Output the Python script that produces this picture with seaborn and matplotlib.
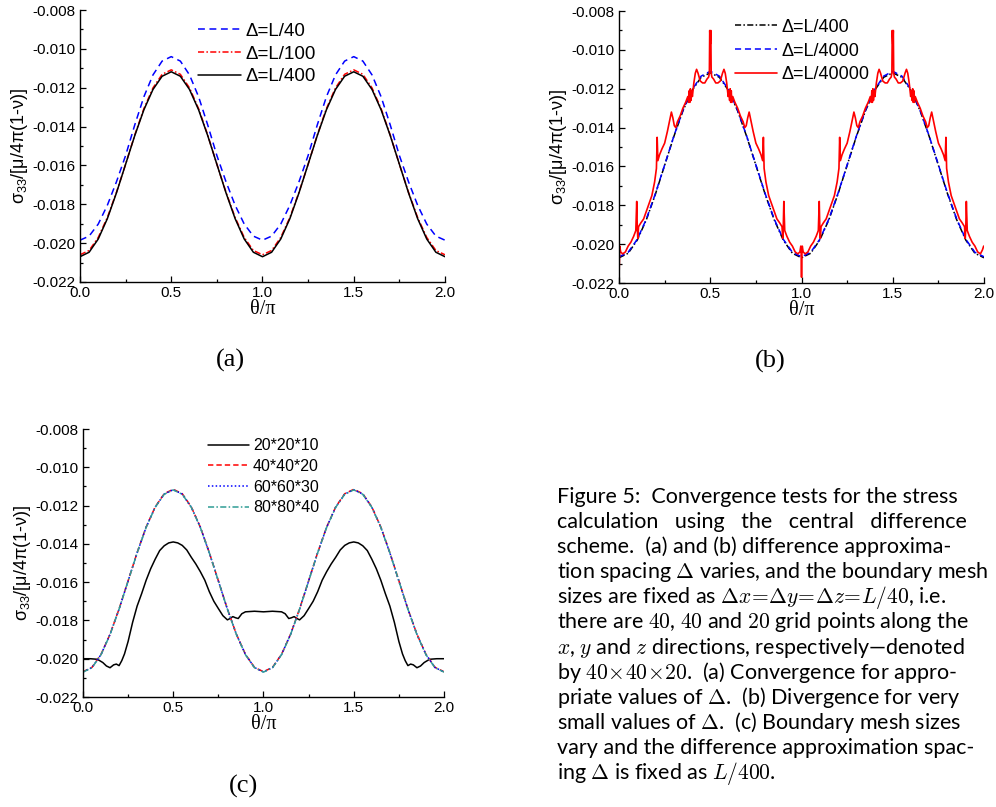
import numpy as np
import pandas as pd
import matplotlib
matplotlib.use("Agg")
import matplotlib.pyplot as plt
from matplotlib.ticker import MultipleLocator, FormatStrFormatter
import seaborn as sns

# sample positions (theta / pi) for the smooth curves
theta = np.round(np.arange(0, 2.0001, 0.05), 2)

# (a) sigma33 for different difference spacings
a_L40 = [-0.01985, -0.01964, -0.01902, -0.01805, -0.01684, -0.01549, -0.01392, -0.01247, -0.01134, -0.01063, -0.01040,
         -0.01063, -0.01134, -0.01247, -0.01392, -0.01549, -0.01684, -0.01805, -0.01902, -0.01964, -0.01985,
         -0.01964, -0.01902, -0.01805, -0.01684, -0.01549, -0.01392, -0.01247, -0.01134, -0.01063, -0.01040,
         -0.01063, -0.01134, -0.01247, -0.01392, -0.01549, -0.01684, -0.01805, -0.01902, -0.01964, -0.01985]
a_L100 = [-0.02060, -0.02038, -0.01971, -0.01868, -0.01738, -0.01594, -0.01444, -0.01308, -0.01201, -0.01131, -0.01108,
          -0.01131, -0.01201, -0.01308, -0.01444, -0.01594, -0.01738, -0.01868, -0.01971, -0.02038, -0.02060,
          -0.02038, -0.01971, -0.01868, -0.01738, -0.01594, -0.01444, -0.01308, -0.01201, -0.01131, -0.01108,
          -0.01131, -0.01201, -0.01308, -0.01444, -0.01594, -0.01738, -0.01868, -0.01971, -0.02038, -0.02060]
a_L400 = [-0.02070, -0.02047, -0.01979, -0.01874, -0.01741, -0.01594, -0.01447, -0.01314, -0.01209, -0.01141, -0.01118,
          -0.01141, -0.01209, -0.01314, -0.01447, -0.01594, -0.01741, -0.01874, -0.01979, -0.02047, -0.02070,
          -0.02047, -0.01979, -0.01874, -0.01741, -0.01594, -0.01447, -0.01314, -0.01209, -0.01141, -0.01118,
          -0.01141, -0.01209, -0.01314, -0.01447, -0.01594, -0.01741, -0.01874, -0.01979, -0.02047, -0.02070]

# (b) very small spacings
b_L400 = [-0.02070, -0.02047, -0.01979, -0.01874, -0.01741, -0.01594, -0.01447, -0.01314, -0.01209, -0.01141, -0.01118,
          -0.01141, -0.01209, -0.01314, -0.01447, -0.01594, -0.01741, -0.01874, -0.01979, -0.02047, -0.02070,
          -0.02047, -0.01979, -0.01874, -0.01741, -0.01594, -0.01447, -0.01314, -0.01209, -0.01141, -0.01118,
          -0.01141, -0.01209, -0.01314, -0.01447, -0.01594, -0.01741, -0.01874, -0.01979, -0.02047, -0.02070]
b_L4000 = [-0.02065, -0.02042, -0.01975, -0.01870, -0.01738, -0.01592, -0.01445, -0.01311, -0.01205, -0.01135, -0.01110,
           -0.01135, -0.01205, -0.01311, -0.01445, -0.01592, -0.01738, -0.01870, -0.01975, -0.02042, -0.02065,
           -0.02042, -0.01975, -0.01870, -0.01738, -0.01592, -0.01445, -0.01311, -0.01205, -0.01135, -0.01110,
           -0.01135, -0.01205, -0.01311, -0.01445, -0.01592, -0.01738, -0.01870, -0.01975, -0.02042, -0.02065]

b_L40000_theta = [
    0.000, 0.004, 0.009, 0.020, 0.035, 0.050, 0.065, 0.080, 0.092, 0.097,
    0.100, 0.103, 0.107, 0.120, 0.135, 0.150, 0.165, 0.180, 0.195, 0.205,
    0.209, 0.213, 0.222, 0.235, 0.250, 0.265, 0.278, 0.287, 0.295, 0.303,
    0.311, 0.320, 0.335, 0.350, 0.365, 0.377, 0.382, 0.385, 0.388, 0.391,
    0.394, 0.397, 0.402, 0.410, 0.418, 0.425, 0.433, 0.445, 0.458, 0.470,
    0.482, 0.491, 0.495, 0.497, 0.500, 0.503, 0.505, 0.509, 0.518, 0.530,
    0.542, 0.555, 0.567, 0.575, 0.582, 0.590, 0.598, 0.603, 0.606, 0.609,
    0.612, 0.615, 0.618, 0.623, 0.635, 0.650, 0.665, 0.680, 0.689, 0.697,
    0.705, 0.713, 0.722, 0.735, 0.750, 0.765, 0.778, 0.787, 0.791, 0.795,
    0.805, 0.820, 0.835, 0.850, 0.865, 0.880, 0.893, 0.897, 0.900, 0.903,
    0.908, 0.920, 0.935, 0.950, 0.965, 0.980, 0.991, 0.996, 0.998, 1.000,
    1.002, 1.004, 1.009, 1.020, 1.035, 1.050, 1.065, 1.080, 1.092, 1.097,
    1.100, 1.103, 1.107, 1.120, 1.135, 1.150, 1.165, 1.180, 1.195, 1.205,
    1.209, 1.213, 1.222, 1.235, 1.250, 1.265, 1.278, 1.287, 1.295, 1.303,
    1.311, 1.320, 1.335, 1.350, 1.365, 1.377, 1.382, 1.385, 1.388, 1.391,
    1.394, 1.397, 1.402, 1.410, 1.418, 1.425, 1.433, 1.445, 1.458, 1.470,
    1.482, 1.491, 1.495, 1.497, 1.500, 1.503, 1.505, 1.509, 1.518, 1.530,
    1.542, 1.555, 1.567, 1.575, 1.582, 1.590, 1.598, 1.603, 1.606, 1.609,
    1.612, 1.615, 1.618, 1.623, 1.635, 1.650, 1.665, 1.680, 1.689, 1.697,
    1.705, 1.713, 1.722, 1.735, 1.750, 1.765, 1.778, 1.787, 1.791, 1.795,
    1.805, 1.820, 1.835, 1.850, 1.865, 1.880, 1.893, 1.897, 1.900, 1.903,
    1.908, 1.920, 1.935, 1.950, 1.965, 1.980, 1.991, 1.998]
b_L40000 = [
    -0.0217, -0.0201, -0.0204, -0.0205, -0.0204, -0.0201, -0.0199, -0.0196, -0.0193, -0.0178,
    -0.0191, -0.0197, -0.0191, -0.0189, -0.0187, -0.0183, -0.0179, -0.0175, -0.0168, -0.0161,
    -0.0145, -0.0157, -0.0154, -0.0151, -0.0148, -0.0142, -0.0136, -0.0132, -0.0135, -0.0139,
    -0.0140, -0.0137, -0.0134, -0.0130, -0.0127, -0.0124, -0.0127, -0.0121, -0.0127, -0.0120,
    -0.0126, -0.0121, -0.0124, -0.0117, -0.0112, -0.0110, -0.0112, -0.0116, -0.0117, -0.0117,
    -0.0115, -0.0114, -0.0112, -0.0090, -0.0097, -0.0090, -0.0112, -0.0114, -0.0115, -0.0117,
    -0.0117, -0.0116, -0.0112, -0.0110, -0.0112, -0.0117, -0.0124, -0.0121, -0.0126, -0.0120,
    -0.0127, -0.0121, -0.0127, -0.0124, -0.0127, -0.0130, -0.0134, -0.0137, -0.0140, -0.0139,
    -0.0135, -0.0132, -0.0136, -0.0142, -0.0148, -0.0151, -0.0154, -0.0157, -0.0145, -0.0161,
    -0.0168, -0.0175, -0.0179, -0.0183, -0.0187, -0.0189, -0.0191, -0.0197, -0.0191, -0.0178,
    -0.0193, -0.0196, -0.0199, -0.0201, -0.0204, -0.0205, -0.0204, -0.0201, -0.0205, -0.0217,
    -0.0205, -0.0201, -0.0204, -0.0205, -0.0204, -0.0201, -0.0199, -0.0196, -0.0193, -0.0178,
    -0.0191, -0.0197, -0.0191, -0.0189, -0.0187, -0.0183, -0.0179, -0.0175, -0.0168, -0.0161,
    -0.0145, -0.0157, -0.0154, -0.0151, -0.0148, -0.0142, -0.0136, -0.0132, -0.0135, -0.0139,
    -0.0140, -0.0137, -0.0134, -0.0130, -0.0127, -0.0124, -0.0127, -0.0121, -0.0127, -0.0120,
    -0.0126, -0.0121, -0.0124, -0.0117, -0.0112, -0.0110, -0.0112, -0.0116, -0.0117, -0.0117,
    -0.0115, -0.0114, -0.0112, -0.0090, -0.0097, -0.0090, -0.0112, -0.0114, -0.0115, -0.0117,
    -0.0117, -0.0116, -0.0112, -0.0110, -0.0112, -0.0117, -0.0124, -0.0121, -0.0126, -0.0120,
    -0.0127, -0.0121, -0.0127, -0.0124, -0.0127, -0.0130, -0.0134, -0.0137, -0.0140, -0.0139,
    -0.0135, -0.0132, -0.0136, -0.0142, -0.0148, -0.0151, -0.0154, -0.0157, -0.0145, -0.0161,
    -0.0168, -0.0175, -0.0179, -0.0183, -0.0187, -0.0189, -0.0191, -0.0197, -0.0191, -0.0178,
    -0.0193, -0.0196, -0.0199, -0.0201, -0.0204, -0.0205, -0.0203, -0.0201]

# (c) boundary mesh sizes
c_20_theta = [0.00, 0.04, 0.08, 0.11, 0.13, 0.15, 0.17, 0.185, 0.20, 0.215, 0.23, 0.25, 0.275, 0.30, 0.325,
              0.35, 0.375, 0.40, 0.425, 0.45, 0.475, 0.50, 0.525, 0.55, 0.575, 0.60, 0.625, 0.65, 0.675,
              0.70, 0.725, 0.75, 0.775, 0.80, 0.815, 0.83, 0.845, 0.86, 0.88, 0.90, 0.95, 1.00,
              1.05, 1.10, 1.12, 1.14, 1.155, 1.17, 1.185, 1.20, 1.225, 1.25, 1.275, 1.30, 1.325,
              1.35, 1.375, 1.40, 1.425, 1.45, 1.475, 1.50, 1.525, 1.55, 1.575, 1.60, 1.625, 1.65, 1.675,
              1.70, 1.725, 1.75, 1.77, 1.785, 1.80, 1.815, 1.83, 1.85, 1.87, 1.89, 1.92, 1.96, 2.00]
c_20 = [-0.02000, -0.02000, -0.02003, -0.02020, -0.02038, -0.02047, -0.02032, -0.02028, -0.02036, -0.02010,
        -0.01975, -0.01910, -0.01810, -0.01725, -0.01660, -0.01590, -0.01530, -0.01480, -0.01435, -0.01410,
        -0.01395, -0.01390, -0.01395, -0.01408, -0.01432, -0.01470, -0.01505, -0.01545, -0.01590, -0.01650,
        -0.01700, -0.01738, -0.01775, -0.01797, -0.01790, -0.01780, -0.01786, -0.01790, -0.01765, -0.01755,
        -0.01752, -0.01755, -0.01752, -0.01755, -0.01765, -0.01790, -0.01786, -0.01780, -0.01790, -0.01797,
        -0.01775, -0.01738, -0.01700, -0.01650, -0.01590, -0.01545, -0.01505, -0.01470, -0.01432, -0.01408,
        -0.01395, -0.01390, -0.01395, -0.01410, -0.01435, -0.01480, -0.01530, -0.01590, -0.01660, -0.01725,
        -0.01810, -0.01910, -0.01975, -0.02010, -0.02036, -0.02028, -0.02032, -0.02047, -0.02038, -0.02020,
        -0.02003, -0.02000, -0.02000]
c_40 = [-0.02068, -0.02045, -0.01977, -0.01872, -0.01740, -0.01593, -0.01446, -0.01312, -0.01207, -0.01138, -0.01115,
        -0.01138, -0.01207, -0.01312, -0.01446, -0.01593, -0.01740, -0.01872, -0.01977, -0.02045, -0.02068,
        -0.02045, -0.01977, -0.01872, -0.01740, -0.01593, -0.01446, -0.01312, -0.01207, -0.01138, -0.01115,
        -0.01138, -0.01207, -0.01312, -0.01446, -0.01593, -0.01740, -0.01872, -0.01977, -0.02045, -0.02068]
c_60 = [-0.02069, -0.02046, -0.01978, -0.01873, -0.01741, -0.01594, -0.01447, -0.01313, -0.01208, -0.01140, -0.01117,
        -0.01140, -0.01208, -0.01313, -0.01447, -0.01594, -0.01741, -0.01873, -0.01978, -0.02046, -0.02069,
        -0.02046, -0.01978, -0.01873, -0.01741, -0.01594, -0.01447, -0.01313, -0.01208, -0.01140, -0.01117,
        -0.01140, -0.01208, -0.01313, -0.01447, -0.01594, -0.01741, -0.01873, -0.01978, -0.02046, -0.02069]
c_80 = [-0.02070, -0.02047, -0.01979, -0.01874, -0.01741, -0.01594, -0.01447, -0.01314, -0.01209, -0.01141, -0.01118,
        -0.01141, -0.01209, -0.01314, -0.01447, -0.01594, -0.01741, -0.01874, -0.01979, -0.02047, -0.02070,
        -0.02047, -0.01979, -0.01874, -0.01741, -0.01594, -0.01447, -0.01314, -0.01209, -0.01141, -0.01118,
        -0.01141, -0.01209, -0.01314, -0.01447, -0.01594, -0.01741, -0.01874, -0.01979, -0.02047, -0.02070]

caption = [
    "Figure 5:  Convergence tests for the stress",
    "calculation   using   the   central   difference",
    "scheme.  (a) and (b) difference approxima-",
    r"tion spacing $\Delta$ varies, and the boundary mesh",
    r"sizes are fixed as $\Delta x\!=\!\Delta y\!=\!\Delta z\!=\!L/40$, i.e.",
    r"there are $40$, $40$ and $20$ grid points along the",
    r"$x$, $y$ and $z$ directions, respectively—denoted",
    r"by $40\!\times\!40\!\times\!20$.  (a) Convergence for appro-",
    r"priate values of $\Delta$.  (b) Divergence for very",
    r"small values of $\Delta$.  (c) Boundary mesh sizes",
    "vary and the difference approximation spac-",
    r"ing $\Delta$ is fixed as $L/400$.",
]

sns.set_theme(style="ticks")
plt.rcParams["font.family"] = ["Liberation Sans", "DejaVu Sans"]
plt.rcParams["axes.unicode_minus"] = False
for k in ["text.color", "axes.labelcolor", "xtick.color", "ytick.color", "axes.edgecolor"]:
    plt.rcParams[k] = "black"

fig = plt.figure(figsize=(9.96, 8.07), dpi=100)
ax_a = fig.add_axes([0.0803, 0.6506, 0.3665, 0.3370])
ax_b = fig.add_axes([0.6215, 0.6493, 0.3665, 0.3370])
ax_c = fig.add_axes([0.0833, 0.1363, 0.3625, 0.3321])


def style_axis(ax):
    ax.set_xlim(0, 2)
    ax.set_ylim(-0.022, -0.008)
    ax.xaxis.set_major_locator(MultipleLocator(0.5))
    ax.xaxis.set_minor_locator(MultipleLocator(0.25))
    ax.yaxis.set_major_locator(MultipleLocator(0.002))
    ax.yaxis.set_minor_locator(MultipleLocator(0.001))
    ax.xaxis.set_major_formatter(FormatStrFormatter("%.1f"))
    ax.yaxis.set_major_formatter(FormatStrFormatter("%.3f"))
    ax.tick_params(which="major", direction="in", length=4, width=0.9, labelsize=11, pad=3)
    ax.tick_params(which="minor", direction="in", length=2.3, width=0.9)
    sns.despine(ax=ax)
    for s in ["left", "bottom"]:
        ax.spines[s].set_linewidth(1.0)
    ax.set_xlabel("θ/π", fontsize=14.5, family=["Liberation Serif", "DejaVu Serif"], labelpad=0)
    ax.set_ylabel(r"σ$\mathregular{_{33}}$/[μ/4π(1-ν)]", fontsize=13, labelpad=2)


def draw(ax, x, y, label, color, ls, lw=1.1):
    sns.lineplot(x=x, y=y, ax=ax, color=color, linestyle=ls, linewidth=lw,
                 label=label, estimator=None, sort=False)


# (a)
draw(ax_a, theta, a_L40, "Δ=L/40", "#0000ff", (0, (4.5, 3)))
draw(ax_a, theta, a_L100, "Δ=L/100", "#ff0000", (0, (4, 1.5, 1, 1.5)))
draw(ax_a, theta, a_L400, "Δ=L/400", "black", "-")
style_axis(ax_a)
ax_a.legend(loc="upper left", bbox_to_anchor=(0.322, 0.953), frameon=False, fontsize=13.5,
            handlelength=2.3, handletextpad=0.25, labelspacing=0.3, borderpad=0, borderaxespad=0)

# (b)
draw(ax_b, theta, b_L400, "Δ=L/400", "black", (0, (4, 1.5, 1, 1.5)))
draw(ax_b, theta, b_L4000, "Δ=L/4000", "#0000ff", (0, (4, 2.5)))
draw(ax_b, b_L40000_theta, b_L40000, "Δ=L/40000", "#ff0000", "-", lw=1.2)
style_axis(ax_b)
ax_b.legend(loc="upper left", bbox_to_anchor=(0.318, 0.972), frameon=False, fontsize=13,
            handlelength=2.3, handletextpad=0.25, labelspacing=0.38, borderpad=0, borderaxespad=0)

# (c)
draw(ax_c, c_20_theta, c_20, "20*20*10", "black", "-")
draw(ax_c, theta, c_40, "40*40*20", "#ff0000", (0, (3.5, 2)))
draw(ax_c, theta, c_60, "60*60*30", "#0000ff", (0, (1, 1.5)))
draw(ax_c, theta, c_80, "80*80*40", "#2f9c95", (0, (4, 1.5, 1, 1.5)))
style_axis(ax_c)
ax_c.legend(loc="upper left", bbox_to_anchor=(0.345, 0.965), frameon=False, fontsize=11.5,
            handlelength=2.6, handletextpad=0.25, labelspacing=0.35, borderpad=0, borderaxespad=0)

serif = ["Liberation Serif", "DejaVu Serif"]
fig.text(230 / 996, 1 - 360 / 807, "(a)", ha="center", va="center", fontsize=19, family=serif)
fig.text(770 / 996, 1 - 361 / 807, "(b)", ha="center", va="center", fontsize=19, family=serif)
fig.text(243 / 996, 1 - 786 / 807, "(c)", ha="center", va="center", fontsize=19, family=serif)

for i, line in enumerate(caption):
    fig.text(557 / 996, 1 - (503 + 25.1 * i) / 807, line, ha="left", va="baseline",
             fontsize=15.5, family=["Lato", "DejaVu Sans"], math_fontfamily="cm")

fig.savefig("out.png", dpi=100)
